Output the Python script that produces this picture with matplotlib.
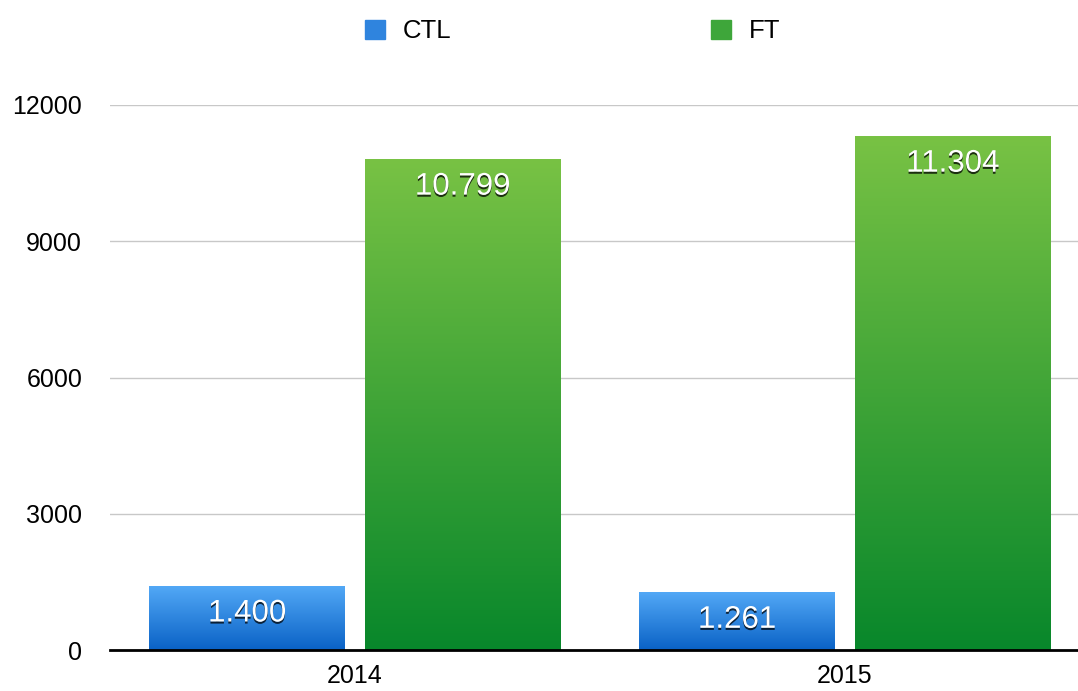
import numpy as np
from matplotlib import pyplot as plt
from matplotlib import patheffects as pe
from matplotlib.colors import LinearSegmentedColormap
from matplotlib.patches import Rectangle

years = ['2014', '2015']
ctl = [1400, 1261]
ft = [10799, 11304]
ctl_labels = ['1.400', '1.261']
ft_labels = ['10.799', '11.304']
yticks = [0, 3000, 6000, 9000, 12000]

plt.rcParams['font.family'] = ['Liberation Sans', 'DejaVu Sans']

blue = LinearSegmentedColormap.from_list('b', ['#0a62c6', '#52a8f6'])
green = LinearSegmentedColormap.from_list('g', ['#08872b', '#78c244'])

fig = plt.figure(figsize=(10.78, 6.91), dpi=100)
ax = fig.add_axes([110 / 1078, 1 - 650 / 691, 980 / 1078, 545 / 691])

x = np.arange(len(years))
w = 0.40
off = 0.22
b1 = ax.bar(x - off, ctl, w, color='none', label='CTL')
b2 = ax.bar(x + off, ft, w, color='none', label='FT')

# gradient fill inside each bar
grad = np.linspace(0, 1, 256).reshape(-1, 1)
for bars, cmap in ((b1, blue), (b2, green)):
    for r in bars:
        x0, y0 = r.get_x(), r.get_y()
        ax.imshow(grad, cmap=cmap, origin='lower', aspect='auto',
                  extent=(x0, x0 + r.get_width(), y0, y0 + r.get_height()),
                  zorder=2)

shadow = [pe.withSimplePatchShadow(offset=(0, -1.5), shadow_rgbFace='black', alpha=0.75)]
for bars, labs in ((b1, ctl_labels), (b2, ft_labels)):
    for r, t in zip(bars, labs):
        ax.annotate(t, (r.get_x() + r.get_width() / 2, r.get_height()),
                    xytext=(0, -19.5), textcoords='offset points',
                    ha='center', va='center', fontsize=22.5, color='white',
                    path_effects=shadow, zorder=4)

ax.set_xlim(-0.5, 1.5)
ax.set_ylim(0, 12000)
ax.set_yticks(yticks)
ax.set_yticklabels([str(v) for v in yticks])
ax.set_xticks(x)
ax.set_xticklabels(years)
ax.tick_params(axis='both', length=0, labelsize=18)
ax.tick_params(axis='y', pad=20)
ax.tick_params(axis='x', pad=10)
ax.grid(axis='y', color='#c8c8c8', lw=1)
ax.set_axisbelow(True)
for s in ['left', 'right', 'top']:
    ax.spines[s].set_visible(False)
ax.spines['bottom'].set_linewidth(2)
ax.spines['bottom'].set_zorder(5)

handles = [Rectangle((0, 0), 1, 1, color='#2f84de'), Rectangle((0, 0), 1, 1, color='#3ea63a')]
fig.legend(handles, ['CTL', 'FT'], loc='center', bbox_to_anchor=(573 / 1078, 1 - 31 / 691),
           ncol=2, frameon=False, fontsize=18.5, handlelength=0.76, handleheight=0.76,
           handletextpad=0.72, columnspacing=10.1)

fig.savefig('out.png', dpi=100)
